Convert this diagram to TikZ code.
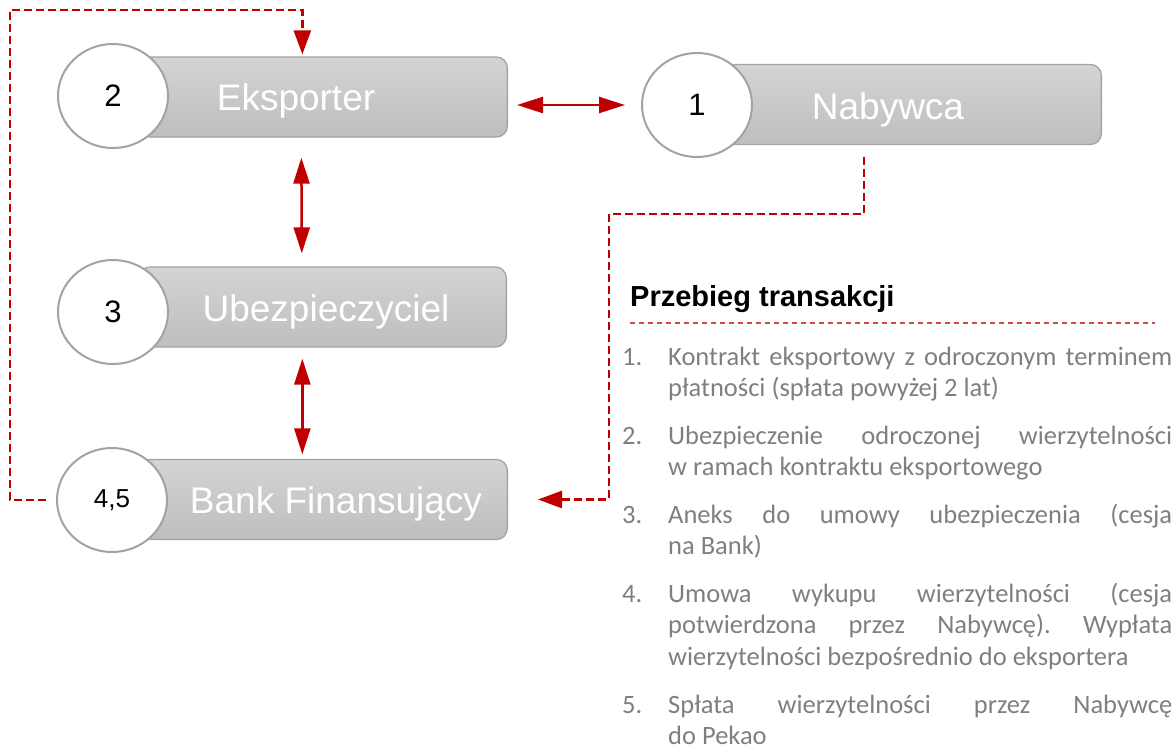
\documentclass[tikz,border=0pt]{standalone}
\usepackage{fontspec}
\setmainfont{Liberation Sans}
\newfontfamily\calibri{Carlito}
\usepackage{xcolor}
\usetikzlibrary{arrows.meta,calc,shapes.geometric}
\definecolor{pkRed}{HTML}{C00000}
\definecolor{pkLine}{HTML}{D24B4B}
\definecolor{pkEdge}{HTML}{A3A3A3}
\definecolor{pkTop}{HTML}{D4D4D4}
\definecolor{pkBot}{HTML}{BEBEBE}
\definecolor{pkText}{HTML}{7F7F7F}

\begin{document}
\begin{tikzpicture}[x=1pt,y=-1pt,>=Stealth,
  box/.style={draw=pkEdge, line width=1.3pt, rounded corners=11pt, top color=pkTop, bottom color=pkBot,
    minimum height=80pt, minimum width=368pt, anchor=east, inner sep=0pt},
  num/.style={ellipse, draw=pkEdge, line width=2pt, fill=white, minimum width=110pt, minimum height=104pt,
    inner sep=0pt, font=\fontsize{31}{31}\selectfont},
  lbl/.style={anchor=base, inner sep=0pt, text=white, font=\fontsize{37}{37}\selectfont},
  dual/.style={pkRed, line width=2.5pt, {Triangle[length=26pt,width=16pt]}-{Triangle[length=26pt,width=16pt]}},
  flow/.style={pkRed, line width=2.7pt, dash pattern=on 8pt off 4pt, -{Triangle[length=24pt,width=17pt]}}]
\useasboundingbox (0,0) rectangle (1174,750);
% parties
\node[box] (eksp) at (508,97) {};
\node[num] (n2) at (113,96) {2};
\node[lbl] (eksp-t) at (296,110.5) {Eksporter};
\node[box, minimum width=377pt] (nab) at (1102,104.5) {};
\node[num] (n1) at (697,105) {1};
\node[lbl] (nab-t) at (888,119) {Nabywca};
\node[box, minimum width=367pt] (ubez) at (507,307) {};
\node[num] (n3) at (113,312) {3};
\node[lbl] (ubez-t) at (326,321.5) {Ubezpieczyciel};
\node[box] (bank) at (508,499.5) {};
\node[num, font=\fontsize{26}{26}\selectfont] (n45) at (112,500) {4,5};
\node[lbl] (bank-t) at (336,513.5) {Bank Finansujący};
% solid links
\draw[dual] ([xshift=9pt]eksp.east |- n1.west) -- ([xshift=-16pt]n1.west);
\draw[dual] ([shift={(-22,20)}]eksp.south) -- ([shift={(-21,-13)}]ubez.north);
\draw[dual] ([shift={(-20.5,11)}]ubez.south) -- ([shift={(-21,-4.5)}]bank.north);
% dashed flows
\coordinate (turn) at (609,214);
\coordinate (loop) at (10,10);
\draw[flow] ([shift={(-49,12)}]nab.south) |- (turn) |- ([xshift=30pt]bank.east);
\draw[flow] ([xshift=-10pt]n45.west) -| (loop) -| ([shift={(-21,-2)}]eksp.north);
% steps
\node[anchor=base west, inner sep=0pt, font=\bfseries\fontsize{29}{29}\selectfont] (head) at (630,306) {Przebieg transakcji};
\draw[pkLine, line width=1.3pt, dash pattern=on 5pt off 4pt] ([yshift=-17pt]head.base west) -- ++(525,0);
\node[anchor=base west, inner sep=0pt, text width=550pt, align=justify, text=pkText,
  font=\calibri\fontsize{26.5}{31.2}\selectfont] (steps) at (622,365) {%
  \frenchspacing\parskip=16.8pt\tolerance=10000\hyphenpenalty=10000
  \hangindent=46pt\hangafter=1\makebox[46pt][l]{1.}Kontrakt eksportowy z~odroczonym terminem\linebreak płatności (spłata powyżej 2~lat)\par
  \hangindent=46pt\hangafter=1\makebox[46pt][l]{2.}Ubezpieczenie odroczonej wierzytelności\linebreak w~ramach kontraktu eksportowego\par
  \hangindent=46pt\hangafter=1\makebox[46pt][l]{3.}Aneks do umowy ubezpieczenia (cesja\linebreak na Bank)\par
  \hangindent=46pt\hangafter=1\makebox[46pt][l]{4.}Umowa wykupu wierzytelności (cesja\linebreak potwierdzona przez Nabywcę). Wypłata\linebreak wierzytelności bezpośrednio do eksportera\par
  \hangindent=46pt\hangafter=1\makebox[46pt][l]{5.}Spłata wierzytelności przez Nabywcę\linebreak do Pekao\par};
\end{tikzpicture}
\end{document}
